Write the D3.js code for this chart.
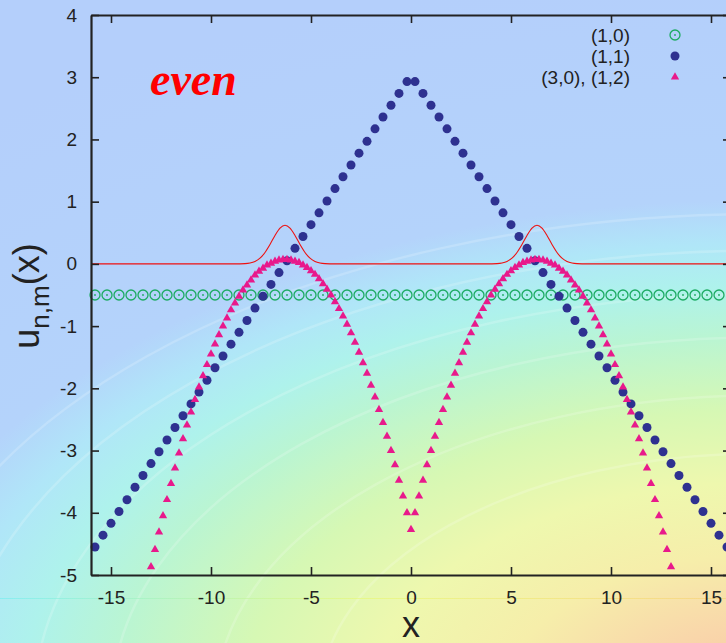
<!DOCTYPE html>
<html>
<head>
<meta charset="utf-8">
<script src="https://cdn.jsdelivr.net/npm/d3@7"></script>
<style>
  body { margin: 0; overflow: hidden; background: #b4cffb; }
  text { font-family: "Liberation Sans", Arial, sans-serif; fill: #222; }
</style>
</head>
<body>
<div id="wrapper"></div>
<script>
// (1,0) open rings
const xRing = [-15.8, -15.2, -14.6, -14.0, -13.4, -12.8, -12.2, -11.6, -11.0, -10.4, -9.8, -9.2, -8.6, -8.0, -7.4, -6.8, -6.2, -5.6, -5.0, -4.4, -3.8, -3.2, -2.6, -2.0, -1.4, -0.8, -0.2,
  0.4, 1.0, 1.6, 2.2, 2.8, 3.4, 4.0, 4.6, 5.2, 5.8, 6.4, 7.0, 7.6, 8.2, 8.8, 9.4, 10.0, 10.6, 11.2, 11.8, 12.4, 13.0, 13.6, 14.2, 14.8, 15.4]
const uRing = [-0.5, -0.5, -0.5, -0.5, -0.5, -0.5, -0.5, -0.5, -0.5, -0.5,
  -0.5, -0.5, -0.5, -0.5, -0.5, -0.5, -0.5, -0.5, -0.5, -0.5,
  -0.5, -0.5, -0.5, -0.5, -0.5, -0.5, -0.5, -0.5, -0.5, -0.5,
  -0.5, -0.5, -0.5, -0.5, -0.5, -0.5, -0.5, -0.5, -0.5, -0.5,
  -0.5, -0.5, -0.5, -0.5, -0.5, -0.5, -0.5, -0.5, -0.5, -0.5,
  -0.5, -0.5, -0.5]

// (1,1) filled dots
const xDots = [-15.8, -15.4, -15.0, -14.6, -14.2, -13.8, -13.4, -13.0, -12.6, -12.2, -11.8, -11.4, -11.0, -10.6, -10.2, -9.8, -9.4, -9.0, -8.6, -8.2,
  -7.8, -7.4, -7.0, -6.6, -6.2, -5.8, -5.4, -5.0, -4.6, -4.2, -3.8, -3.4, -3.0, -2.6, -2.2, -1.8, -1.4, -1.0, -0.6, -0.2,
  0.2, 0.6, 1.0, 1.4, 1.8, 2.2, 2.6, 3.0, 3.4, 3.8, 4.2, 4.6, 5.0, 5.4, 5.8, 6.2, 6.6, 7.0, 7.4, 7.8,
  8.2, 8.6, 9.0, 9.4, 9.8, 10.2, 10.6, 11.0, 11.4, 11.8, 12.2, 12.6, 13.0, 13.4, 13.8, 14.2, 14.6, 15.0, 15.4, 15.8]
const uDots = [-4.55, -4.36, -4.17, -3.98, -3.79, -3.59, -3.40, -3.21, -3.02, -2.83, -2.63, -2.44, -2.25, -2.06, -1.87, -1.67, -1.48, -1.29, -1.10, -0.91,
  -0.71, -0.52, -0.33, -0.14, 0.05, 0.25, 0.44, 0.63, 0.82, 1.01, 1.21, 1.40, 1.59, 1.78, 1.97, 2.17, 2.36, 2.55, 2.74, 2.93,
  2.93, 2.74, 2.55, 2.36, 2.17, 1.97, 1.78, 1.59, 1.40, 1.21, 1.01, 0.82, 0.63, 0.44, 0.25, 0.05, -0.14, -0.33, -0.52, -0.71,
  -0.91, -1.10, -1.29, -1.48, -1.67, -1.87, -2.06, -2.25, -2.44, -2.63, -2.83, -3.02, -3.21, -3.40, -3.59, -3.79, -3.98, -4.17, -4.36, -4.55]

// (3,0), (1,2) triangles
const xTri = [-13.0, -12.8, -12.6, -12.4, -12.2, -12.0, -11.8, -11.6, -11.4, -11.2, -11.0, -10.8, -10.6, -10.4, -10.2, -10.0, -9.8, -9.6, -9.4, -9.2,
  -9.0, -8.8, -8.6, -8.4, -8.2, -8.0, -7.8, -7.6, -7.4, -7.2, -7.0, -6.8, -6.6, -6.4, -6.2, -6.0, -5.8, -5.6, -5.4, -5.2,
  -5.0, -4.8, -4.6, -4.4, -4.2, -4.0, -3.8, -3.6, -3.4, -3.2, -3.0, -2.8, -2.6, -2.4, -2.2, -2.0, -1.8, -1.6, -1.4, -1.2,
  -1.0, -0.8, -0.6, -0.4, -0.2, 0.0, 0.2, 0.4, 0.6, 0.8, 1.0, 1.2, 1.4, 1.6, 1.8, 2.0, 2.2, 2.4, 2.6, 2.8,
  3.0, 3.2, 3.4, 3.6, 3.8, 4.0, 4.2, 4.4, 4.6, 4.8, 5.0, 5.2, 5.4, 5.6, 5.8, 6.0, 6.2, 6.4, 6.6, 6.8,
  7.0, 7.2, 7.4, 7.6, 7.8, 8.0, 8.2, 8.4, 8.6, 8.8, 9.0, 9.2, 9.4, 9.6, 9.8, 10.0, 10.2, 10.4, 10.6, 10.8,
  11.0, 11.2, 11.4, 11.6, 11.8, 12.0, 12.2, 12.4, 12.6, 12.8, 13.0]
const uTri = [-4.87, -4.59, -4.31, -4.05, -3.79, -3.53, -3.28, -3.04, -2.81, -2.59, -2.38, -2.18, -1.98, -1.80, -1.62, -1.45, -1.29, -1.14, -1.00, -0.87,
  -0.74, -0.63, -0.52, -0.42, -0.34, -0.26, -0.18, -0.12, -0.07, -0.02, 0.01, 0.04, 0.06, 0.07, 0.07, 0.06, 0.04, 0.02, -0.02, -0.06,
  -0.11, -0.17, -0.24, -0.32, -0.41, -0.50, -0.61, -0.72, -0.84, -0.97, -1.11, -1.26, -1.42, -1.59, -1.76, -1.95, -2.14, -2.34, -2.55, -2.77,
  -3.00, -3.23, -3.48, -3.73, -4.00, -4.27, -4.00, -3.73, -3.48, -3.23, -3.00, -2.77, -2.55, -2.34, -2.14, -1.95, -1.76, -1.59, -1.42, -1.26,
  -1.11, -0.97, -0.84, -0.72, -0.61, -0.50, -0.41, -0.32, -0.24, -0.17, -0.11, -0.06, -0.02, 0.02, 0.04, 0.06, 0.07, 0.07, 0.06, 0.04,
  0.01, -0.02, -0.07, -0.12, -0.18, -0.26, -0.34, -0.42, -0.52, -0.63, -0.74, -0.87, -1.00, -1.14, -1.29, -1.45, -1.62, -1.80, -1.98, -2.18,
  -2.38, -2.59, -2.81, -3.04, -3.28, -3.53, -3.79, -4.05, -4.31, -4.59, -4.87]

// thin red curve (two bumps)
const xRed = [-16, -8.8, -8.3, -8.05, -7.8, -7.55, -7.3, -7.05, -6.8, -6.55, -6.3, -6.05, -5.8, -5.55, -5.3, -5.05, -4.8, -4.55, -4.3, -3.8,
  0, 3.8, 4.3, 4.55, 4.8, 5.05, 5.3, 5.55, 5.8, 6.05, 6.3, 6.55, 6.8, 7.05, 7.3, 7.55, 7.8, 8.05, 8.3, 8.8, 16]
const uRed = [0, 0, 0.005, 0.015, 0.04, 0.092, 0.183, 0.312, 0.457, 0.574, 0.62, 0.574, 0.457, 0.312, 0.183, 0.092, 0.04, 0.015, 0.005, 0,
  0, 0, 0.005, 0.015, 0.04, 0.092, 0.183, 0.312, 0.457, 0.574, 0.62, 0.574, 0.457, 0.312, 0.183, 0.092, 0.04, 0.015, 0.005, 0, 0]

const xTicks = [-15, -10, -5, 0, 5, 10, 15]
const yTicks = [-5, -4, -3, -2, -1, 0, 1, 2, 3, 4]
const legendLabels = ["(1,0)", "(1,1)", "(3,0), (1,2)"]

function draw() {
    var dimension = {
        width: 726,
        height: 643,
        margin: { top: 15, left: 91 }
    }
    dimension.boundedWidth = 640
    dimension.boundedHeight = 560

    const wrapper = d3.select("#wrapper")
        .append("svg")
        .attr("width", dimension.width)
        .attr("height", dimension.height)

    // background colour map, centred off the bottom-right corner
    const defs = wrapper.append("defs")
    const bgGrad = defs.append("radialGradient")
        .attr("id", "bgGrad")
        .attr("gradientUnits", "userSpaceOnUse")
        .attr("cx", 760).attr("cy", 700).attr("r", 1295)
        .attr("gradientTransform", "translate(760,700) scale(1,0.56) translate(-760,-700)")
    const stops = [[0, "#f8c2a2"], [0.1, "#f9d6aa"], [0.2, "#f6eeaa"], [0.3, "#eef8ae"], [0.4, "#d6f8b4"],
        [0.5, "#baf5d2"], [0.57, "#aef2ec"], [0.63, "#b0e6f8"], [0.69, "#b4d3fb"], [1, "#b4cffb"]]
    stops.forEach(s => bgGrad.append("stop").attr("offset", s[0]).attr("stop-color", s[1]))

    const streak = defs.append("linearGradient").attr("id", "streak")
    streak.append("stop").attr("offset", 0).attr("stop-color", "#70eef0")
    streak.append("stop").attr("offset", 0.5).attr("stop-color", "#e8f870")
    streak.append("stop").attr("offset", 1).attr("stop-color", "#f8d070")

    wrapper.append("rect").attr("width", dimension.width).attr("height", dimension.height).attr("fill", "url(#bgGrad)")

    // faint contour lines of the colour map
    wrapper.append("g")
        .selectAll("ellipse")
        .data([0.34, 0.42, 0.5, 0.56, 0.62, 0.67])
        .enter()
        .append("ellipse")
        .attr("cx", 760).attr("cy", 700)
        .attr("rx", d => 1295 * d).attr("ry", d => 725 * d)
        .attr("fill", "none")
        .attr("stroke", "#ffffff")
        .attr("stroke-opacity", 0.18)
        .attr("stroke-width", 2.5)

    wrapper.append("rect").attr("x", 0).attr("y", 598).attr("width", dimension.width).attr("height", 1)
        .attr("fill", "url(#streak)").attr("opacity", 0.6)

    const bounds = wrapper.append("g")
        .attr("transform", `translate(${dimension.margin.left},${dimension.margin.top})`)

    const x = d3.scaleLinear().domain([-16, 16]).range([0, dimension.boundedWidth])
    const y = d3.scaleLinear().domain([-5, 4]).range([dimension.boundedHeight, 0])

    // red curve
    const redData = d3.zip(xRed, uRed)
    bounds.append("path")
        .datum(redData)
        .attr("fill", "none")
        .attr("stroke", "#ee1111")
        .attr("stroke-width", 1.1)
        .attr("d", d3.line().x(d => x(d[0])).y(d => y(d[1])).curve(d3.curveMonotoneX))

    // (1,0)
    const rings = bounds.append("g")
        .selectAll("g")
        .data(d3.zip(xRing, uRing))
        .enter()
        .append("g")
        .attr("transform", d => `translate(${x(d[0])},${y(d[1])})`)
    rings.append("circle").attr("r", 5).attr("fill", "none").attr("stroke", "#1dab62").attr("stroke-width", 1.3)
    rings.append("circle").attr("r", 0.9).attr("fill", "#1dab62")

    // (1,1)
    bounds.append("g")
        .selectAll("circle")
        .data(d3.zip(xDots, uDots))
        .enter()
        .append("circle")
        .attr("cx", d => x(d[0]))
        .attr("cy", d => y(d[1]))
        .attr("r", 4.5)
        .attr("fill", "#2e3190")

    // (3,0), (1,2)
    const tri = d3.symbol(d3.symbolTriangle, 30)
    bounds.append("g")
        .selectAll("path")
        .data(d3.zip(xTri, uTri))
        .enter()
        .append("path")
        .attr("d", tri)
        .attr("transform", d => `translate(${x(d[0])},${y(d[1])})`)
        .attr("fill", "#e8198b")

    // axes, ticks inward on all four sides
    const fmt = d => String(d)
    bounds.append("g")
        .attr("transform", `translate(0,${dimension.boundedHeight})`)
        .call(d3.axisBottom(x).tickValues(xTicks).tickFormat(fmt).tickSize(-8).tickSizeOuter(0).tickPadding(16))
    bounds.append("g")
        .call(d3.axisLeft(y).tickValues(yTicks).tickFormat(fmt).tickSize(-8).tickSizeOuter(0).tickPadding(14))
    bounds.append("g")
        .call(d3.axisTop(x).tickValues(xTicks).tickFormat("").tickSize(-8).tickSizeOuter(0))
    bounds.append("g")
        .attr("transform", `translate(${dimension.boundedWidth},0)`)
        .call(d3.axisRight(y).tickValues(yTicks).tickFormat("").tickSize(-8).tickSizeOuter(0))

    bounds.selectAll(".domain").attr("stroke", "#222").attr("stroke-width", 2.2)
    bounds.selectAll(".tick line").attr("stroke", "#222").attr("stroke-width", 1.6)
    bounds.selectAll(".tick text")
        .style("font-family", "'Liberation Sans', Arial, sans-serif")
        .style("font-size", "19px")
        .attr("fill", "#222")

    // axis titles
    wrapper.append("text")
        .attr("x", 411)
        .attr("y", 637)
        .attr("text-anchor", "middle")
        .style("font-size", "36px")
        .text("x")

    const ylab = wrapper.append("text")
        .attr("transform", "translate(39,296) rotate(-90)")
        .attr("text-anchor", "middle")
        .style("font-size", "36px")
    ylab.append("tspan").text("u")
    ylab.append("tspan").attr("dy", 10).style("font-size", "26px").text("n,m")
    ylab.append("tspan").attr("dy", -10).text("(x)")

    // "even" tag
    wrapper.append("text")
        .attr("x", 150)
        .attr("y", 95)
        .style("font-family", "'Liberation Serif', 'Times New Roman', serif")
        .style("font-style", "italic")
        .style("font-weight", "bold")
        .style("font-size", "46px")
        .style("fill", "#ff0000")
        .text("even")

    // legend
    const legend = wrapper.append("g")
        .selectAll("g")
        .data(legendLabels)
        .enter()
        .append("g")
        .attr("transform", (d, i) => `translate(0,${35 + i * 21})`)
    legend.append("text")
        .attr("x", 630)
        .attr("dy", "0.35em")
        .attr("text-anchor", "end")
        .style("font-size", "19px")
        .text(d => d)
    legend.filter((d, i) => i == 0).append("circle").attr("cx", 675).attr("r", 5)
        .attr("fill", "none").attr("stroke", "#1dab62").attr("stroke-width", 1.3)
    legend.filter((d, i) => i == 0).append("circle").attr("cx", 675).attr("r", 0.9).attr("fill", "#1dab62")
    legend.filter((d, i) => i == 1).append("circle").attr("cx", 675).attr("r", 4.5).attr("fill", "#2e3190")
    legend.filter((d, i) => i == 2).append("path").attr("d", tri).attr("transform", "translate(675,0)").attr("fill", "#e8198b")
}

draw();
</script>
</body>
</html>
